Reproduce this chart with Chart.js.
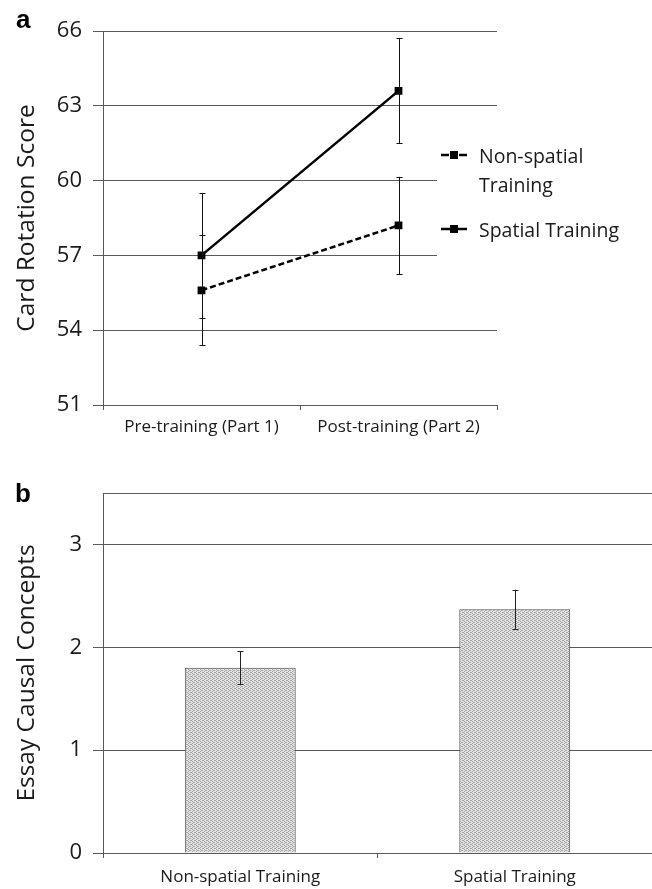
<!DOCTYPE html>
<html>
<head>
<meta charset="utf-8">
<script src="https://cdn.jsdelivr.net/npm/chart.js@4.4.1/dist/chart.umd.min.js"></script>
<style>
  html, body { margin: 0; padding: 0; background: #ffffff; }
  body { width: 652px; height: 889px; position: relative; overflow: hidden; }
  .wrap { position: absolute; left: 0; width: 652px; }
  .panel-label { position: absolute; font-family: "Liberation Sans", Arial, sans-serif; font-weight: bold; font-size: 26px; line-height: 26px; color: #000; }
  canvas { display: block; }
</style>
</head>
<body>
<div class="wrap" style="top:0;height:445px;"><canvas id="chartA" width="652" height="445"></canvas></div>
<div class="wrap" style="top:445px;height:444px;"><canvas id="chartB" width="652" height="444"></canvas></div>
<div class="panel-label" style="left:16px;top:6px;">a</div>
<div class="panel-label" style="left:15px;top:480px;">b</div>
<script>
// ---------- Panel a data ----------
const phases = ['Pre-training (Part 1)', 'Post-training (Part 2)'];
const seriesNames = ['Non-spatial Training', 'Spatial Training'];
const legendLines = [['Non-spatial', 'Training'], ['Spatial Training']];
const nonSpatialScores = [55.6, 58.2];
const nonSpatialErr = [2.2, 1.95];
const spatialScores = [57.0, 63.6];
const spatialErr = [2.5, 2.1];
const scoreTicks = [51, 54, 57, 60, 63, 66];

// ---------- Panel b data ----------
const groups = ['Non-spatial Training', 'Spatial Training'];
const conceptMeans = [1.8, 2.37];
const conceptErr = [0.16, 0.19];
const conceptTicks = [0, 1, 2, 3];
const conceptMax = 3.5;

Chart.defaults.font.family = '"Open Sans", "DejaVu Sans", sans-serif';
Chart.defaults.color = '#1a1a1a';
Chart.defaults.animation = false;

const GRID = '#5a5a5a';

// error bar plugin (uses library scales and element positions)
const errorBarPlugin = {
  id: 'errorBars',
  afterDatasetsDraw(chart, args, opts) {
    const ctx = chart.ctx;
    const y = chart.scales.y;
    ctx.save();
    ctx.strokeStyle = opts.color || '#111';
    ctx.lineWidth = 1;
    chart.data.datasets.forEach((ds, di) => {
      const errs = opts.errors[di];
      if (!errs) return;
      const meta = chart.getDatasetMeta(di);
      meta.data.forEach((el, i) => {
        const v = ds.data[i];
        const xp = Math.round(el.x) + 0.5;
        const yt = y.getPixelForValue(v + errs[i]);
        const yb = y.getPixelForValue(v - errs[i]);
        const cw = opts.cap || 3;
        ctx.beginPath();
        ctx.moveTo(xp, yt); ctx.lineTo(xp, yb);
        ctx.moveTo(xp - cw, Math.round(yt) + 0.5); ctx.lineTo(xp + cw, Math.round(yt) + 0.5);
        ctx.moveTo(xp - cw, Math.round(yb) + 0.5); ctx.lineTo(xp + cw, Math.round(yb) + 0.5);
        ctx.stroke();
      });
    });
    ctx.restore();
  }
};

// side legend for panel a
const sideLegendPlugin = {
  id: 'sideLegend',
  beforeDatasetsDraw(chart) {
    const ctx = chart.ctx;
    ctx.save();
    ctx.fillStyle = '#ffffff';
    ctx.fillRect(437, 140, chart.chartArea.right - 437 + 2, 130);
    ctx.restore();
  },
  afterDraw(chart) {
    const ctx = chart.ctx;
    const items = [
      { lineY: 155, baselines: [163, 192] },
      { lineY: 229, baselines: [237] }
    ];
    ctx.save();
    chart.data.datasets.forEach((ds, di) => {
      const it = items[di];
      ctx.strokeStyle = '#000';
      ctx.lineWidth = 2.5;
      ctx.beginPath();
      if (ds.borderDash && ds.borderDash.length) {
        ctx.moveTo(441, it.lineY); ctx.lineTo(449, it.lineY);
        ctx.moveTo(459, it.lineY); ctx.lineTo(467, it.lineY);
      } else {
        ctx.moveTo(441, it.lineY); ctx.lineTo(467, it.lineY);
      }
      ctx.stroke();
      ctx.fillStyle = '#000';
      ctx.fillRect(450, it.lineY - 4, 8, 8);
      ctx.fillStyle = '#1a1a1a';
      ctx.font = '19.5px "Open Sans", sans-serif';
      ctx.textAlign = 'left';
      ctx.textBaseline = 'alphabetic';
      legendLines[di].forEach((t, li) => ctx.fillText(t, 479, it.baselines[li]));
    });
    ctx.restore();
  }
};

// ---------- Chart a ----------
new Chart(document.getElementById('chartA'), {
  type: 'line',
  data: {
    labels: phases,
    datasets: [
      {
        label: seriesNames[0],
        data: nonSpatialScores,
        borderColor: '#000',
        backgroundColor: '#000',
        borderWidth: 2.5,
        borderDash: [6, 3],
        pointStyle: 'rect',
        pointRadius: 5.5,
        pointBackgroundColor: '#000',
        pointBorderWidth: 0,
        tension: 0
      },
      {
        label: seriesNames[1],
        data: spatialScores,
        borderColor: '#000',
        backgroundColor: '#000',
        borderWidth: 2.5,
        pointStyle: 'rect',
        pointRadius: 5.5,
        pointBackgroundColor: '#000',
        pointBorderWidth: 0,
        tension: 0
      }
    ]
  },
  options: {
    responsive: false,
    devicePixelRatio: 1,
    layout: { padding: { top: 31, right: 155, left: 0, bottom: 0 } },
    plugins: {
      legend: { display: false },
      tooltip: { enabled: false },
      errorBars: { errors: [nonSpatialErr, spatialErr], cap: 3, color: '#111' }
    },
    scales: {
      x: {
        type: 'category',
        offset: true,
        grid: { offset: true, drawOnChartArea: false, drawTicks: true, tickLength: 5, color: GRID },
        border: { color: GRID, width: 1 },
        ticks: { font: { size: 17 }, padding: 7, color: '#1a1a1a', maxRotation: 0 },
        afterFit: s => { s.height = 40; }
      },
      y: {
        min: 51, max: 66,
        afterBuildTicks: s => { s.ticks = scoreTicks.map(v => ({ value: v })); },
        grid: { color: GRID, tickLength: 10, lineWidth: 1 },
        border: { color: GRID, width: 1 },
        ticks: { font: { size: 22 }, padding: 11, color: '#1a1a1a' },
        title: { display: true, text: 'Card Rotation Score', font: { size: 24.5 }, padding: { top: 12, bottom: 0 }, color: '#1a1a1a' },
        afterFit: s => { s.width = 103; }
      }
    }
  },
  plugins: [sideLegendPlugin, errorBarPlugin]
});

// ---------- Chart b ----------
function makePattern() {
  const c = document.createElement('canvas');
  c.width = 4; c.height = 4;
  const g = c.getContext('2d');
  g.fillStyle = '#e2e2e2';
  g.fillRect(0, 0, 4, 4);
  g.fillStyle = '#a4a4a4';
  [[0,0],[2,1],[0,2],[2,3],[1,1],[3,3]].forEach(p => g.fillRect(p[0], p[1], 1, 1));
  return document.getElementById('chartB').getContext('2d').createPattern(c, 'repeat');
}

new Chart(document.getElementById('chartB'), {
  type: 'bar',
  data: {
    labels: groups,
    datasets: [{
      label: 'Essay Causal Concepts',
      data: conceptMeans,
      backgroundColor: makePattern(),
      borderColor: '#4a4a4a',
      borderWidth: 1,
      barPercentage: 0.404,
      categoryPercentage: 1.0
    }]
  },
  options: {
    responsive: false,
    devicePixelRatio: 1,
    layout: { padding: { top: 48, right: 0, left: 0, bottom: 0 } },
    plugins: {
      legend: { display: false },
      tooltip: { enabled: false },
      errorBars: { errors: [conceptErr], cap: 3, color: '#222' }
    },
    scales: {
      x: {
        type: 'category',
        offset: true,
        grid: { offset: true, drawOnChartArea: false, drawTicks: true, tickLength: 5, color: GRID },
        border: { color: GRID, width: 1 },
        ticks: { font: { size: 17 }, padding: 9, color: '#1a1a1a', maxRotation: 0 },
        afterFit: s => { s.height = 36; }
      },
      y: {
        min: 0, max: conceptMax,
        afterBuildTicks: s => { s.ticks = conceptTicks.concat([conceptMax]).map(v => ({ value: v })); },
        grid: {
          color: GRID, tickLength: 10, lineWidth: 1,
          tickColor: c => (c.tick && c.tick.value === conceptMax) ? 'rgba(0,0,0,0)' : GRID
        },
        border: { color: GRID, width: 1 },
        ticks: {
          font: { size: 22 }, padding: 11, color: '#1a1a1a',
          callback: v => (conceptTicks.includes(v) ? String(v) : '')
        },
        title: { display: true, text: 'Essay Causal Concepts', font: { size: 24.5 }, padding: { top: 12, bottom: 0 }, color: '#1a1a1a' },
        afterFit: s => { s.width = 103; }
      }
    }
  },
  plugins: [errorBarPlugin]
});
</script>
</body>
</html>
